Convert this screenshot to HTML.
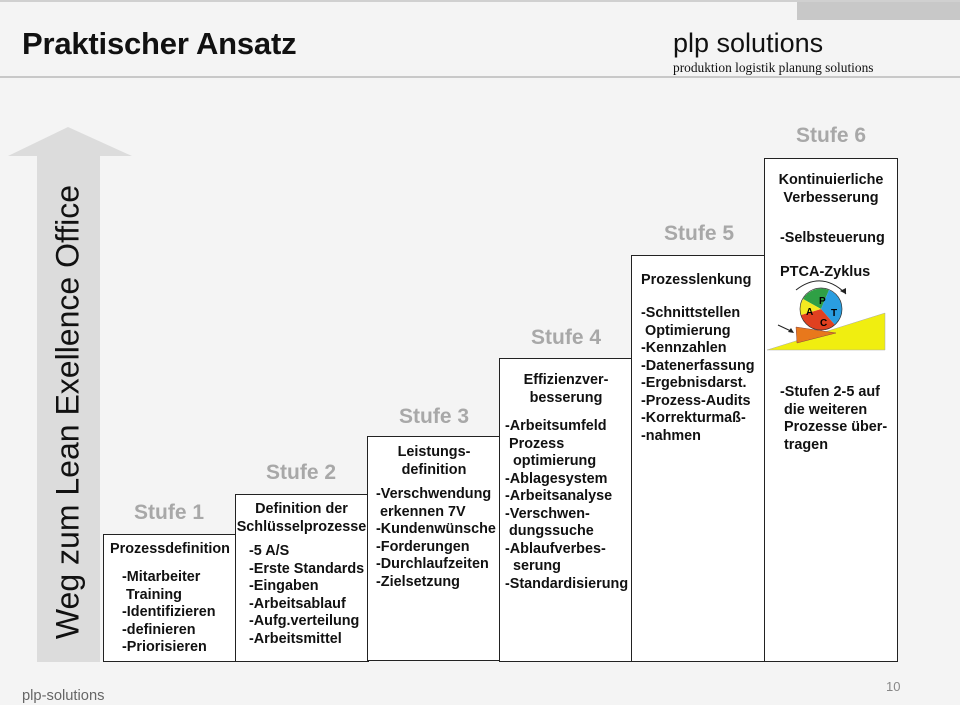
<!DOCTYPE html>
<html><head><meta charset="utf-8"><style>
body{margin:0;width:960px;height:705px;background:#f4f4f4;position:relative;overflow:hidden;font-family:"Liberation Sans",Arial,sans-serif}
.a{position:absolute;white-space:nowrap}
.box{position:absolute;background:#fff;border:1.5px solid #222;box-sizing:border-box}
.t{position:absolute;font-weight:bold;font-size:14.4px;color:#111;line-height:17.5px;white-space:nowrap}
.c{text-align:center}
.st{position:absolute;font-weight:bold;font-size:21px;color:#a8a8a8;white-space:nowrap}
</style></head><body>
<div class="a" style="left:797px;top:0;width:163px;height:20px;background:#c8c8c8"></div>
<div class="a" style="left:0;top:0;width:960px;height:2px;background:#d0d0d0"></div>
<div class="a" style="left:22px;top:26px;font-size:31px;font-weight:bold;color:#111;letter-spacing:-0.2px">Praktischer Ansatz</div>
<div class="a" style="left:673px;top:28px;font-size:27px;color:#111">plp solutions</div>
<div class="a" style="left:673px;top:60px;font-size:13.4px;font-family:'Liberation Serif',serif;color:#111">produktion logistik planung solutions</div>
<div class="a" style="left:0;top:76px;width:960px;height:2px;background:#c8c8c8"></div>

<svg class="a" style="left:0;top:0" width="960" height="705">
<polygon points="68,127 132,156 100,156 100,662 37,662 37,156 8,156" fill="#dcdcdc"/>
</svg>
<div class="a" style="left:68px;top:412px;transform:translate(-50%,-50%) rotate(-90deg);font-size:32px;color:#111">Weg zum Lean Exellence Office</div>

<div class="box" style="left:103px;top:534px;width:134px;height:128px"></div>
<div class="box" style="left:235px;top:494px;width:134px;height:168px"></div>
<div class="box" style="left:367px;top:436px;width:134px;height:225px"></div>
<div class="box" style="left:499px;top:358px;width:134px;height:304px"></div>
<div class="box" style="left:631px;top:255px;width:135px;height:407px"></div>
<div class="box" style="left:764px;top:158px;width:134px;height:504px"></div>

<div class="st" style="left:134px;top:501px">Stufe 1</div>
<div class="st" style="left:266px;top:461px">Stufe 2</div>
<div class="st" style="left:399px;top:405px">Stufe 3</div>
<div class="st" style="left:531px;top:326px">Stufe 4</div>
<div class="st" style="left:664px;top:222px">Stufe 5</div>
<div class="st" style="left:796px;top:124px">Stufe 6</div>

<div class="t" style="left:110px;top:541px">Prozessdefinition</div>
<div class="t" style="left:122px;top:569px">-Mitarbeiter<br>&nbsp;Training<br>-Identifizieren<br>-definieren<br>-Priorisieren</div>

<div class="t c" style="left:236px;top:501px;width:131px">Definition der<br>Schlüsselprozesse</div>
<div class="t" style="left:249px;top:543px">-5 A/S<br>-Erste Standards<br>-Eingaben<br>-Arbeitsablauf<br>-Aufg.verteilung<br>-Arbeitsmittel</div>

<div class="t c" style="left:368px;top:444px;width:132px">Leistungs-<br>definition</div>
<div class="t" style="left:376px;top:486px">-Verschwendung<br>&nbsp;erkennen 7V<br>-Kundenwünsche<br>-Forderungen<br>-Durchlaufzeiten<br>-Zielsetzung</div>

<div class="t c" style="left:500px;top:372px;width:132px">Effizienzver-<br>besserung</div>
<div class="t" style="left:505px;top:418px">-Arbeitsumfeld<br>&nbsp;Prozess<br>&nbsp;&nbsp;optimierung<br>-Ablagesystem<br>-Arbeitsanalyse<br>-Verschwen-<br>&nbsp;dungssuche<br>-Ablaufverbes-<br>&nbsp;&nbsp;serung<br>-Standardisierung</div>

<div class="t" style="left:641px;top:272px">Prozesslenkung</div>
<div class="t" style="left:641px;top:305px">-Schnittstellen<br>&nbsp;Optimierung<br>-Kennzahlen<br>-Datenerfassung<br>-Ergebnisdarst.<br>-Prozess-Audits<br>-Korrekturmaß-<br>-nahmen</div>

<div class="t c" style="left:765px;top:172px;width:132px">Kontinuierliche<br>Verbesserung</div>
<div class="t" style="left:780px;top:230px">-Selbsteuerung</div>
<div class="t" style="left:780px;top:264px;font-size:14.5px">PTCA-Zyklus</div>
<svg class="a" style="left:760px;top:280px" width="140" height="80">
<polygon points="7,70 125,33 125,70" fill="#f0ee10" stroke="#aaa" stroke-width="0.5"/>
<polygon points="36,47 37,63 76,53" fill="#e8781c" stroke="#844" stroke-width="0.5"/>
<g transform="translate(61,29)">
<path d="M0,0 L-18,-10 A21,21 0 0 1 8,-19 Z" fill="#2fa045"/>
<path d="M0,0 L8,-19 A21,21 0 0 1 14,16 Z" fill="#2a9ee0"/>
<path d="M0,0 L14,16 A21,21 0 0 1 -20,6 Z" fill="#e04020"/>
<path d="M0,0 L-20,6 A21,21 0 0 1 -18,-10 Z" fill="#f4ea20"/>
<circle r="21" fill="none" stroke="#333" stroke-width="0.7"/>
<text x="-2" y="-5" font-size="10" font-weight="bold" font-family="Liberation Sans">P</text>
<text x="10" y="7" font-size="10" font-weight="bold" font-family="Liberation Sans">T</text>
<text x="-1" y="17" font-size="10" font-weight="bold" font-family="Liberation Sans">C</text>
<text x="-15" y="6" font-size="10" font-weight="bold" font-family="Liberation Sans">A</text>
</g>
<path d="M36,10 Q62,-10 86,14" fill="none" stroke="#222" stroke-width="1"/>
<polygon points="86,14 80,11 86,8" fill="#222"/>
<line x1="18" y1="45" x2="33" y2="52" stroke="#222" stroke-width="1"/>
<polygon points="34,53 28,52 31,48" fill="#222"/>
</svg>
<div class="t" style="left:780px;top:384px">-Stufen 2-5 auf<br>&nbsp;die weiteren<br>&nbsp;Prozesse über-<br>&nbsp;tragen</div>

<div class="a" style="left:22px;top:688px;font-size:14.7px;color:#666">plp-solutions</div>
<div class="a" style="left:886px;top:679px;font-size:13px;color:#888">10</div>
</body></html>
